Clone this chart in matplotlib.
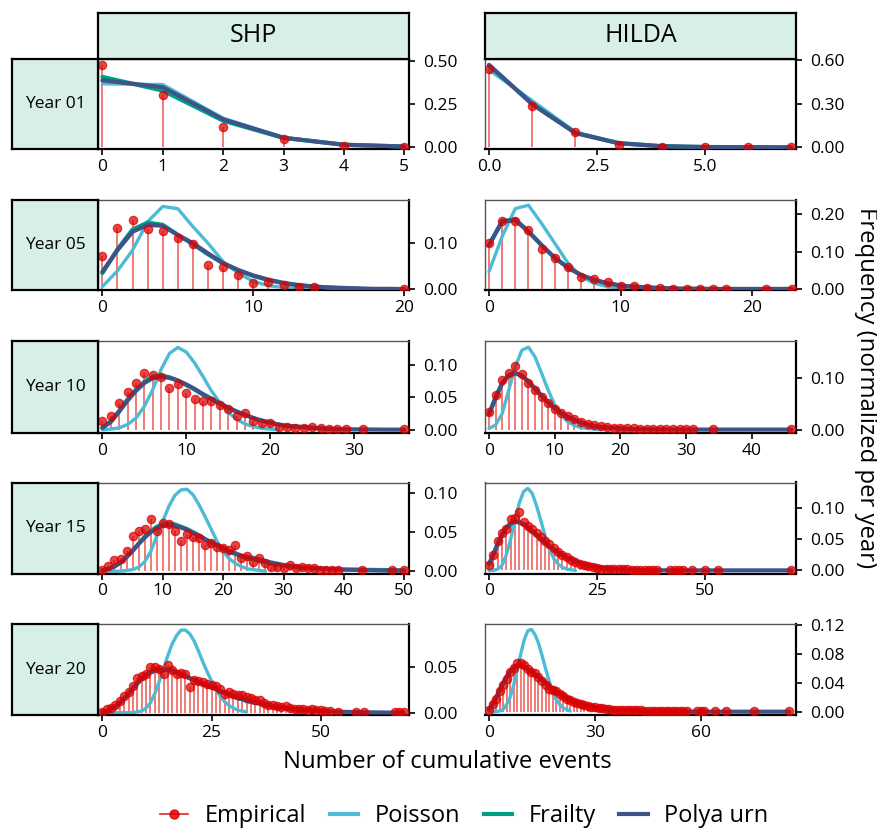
import numpy as np
import matplotlib
matplotlib.use("Agg")
import matplotlib.pyplot as plt
from matplotlib.lines import Line2D

plt.rcParams['font.family'] = ['Open Sans', 'DejaVu Sans']

datasets = ["SHP", "HILDA"]
years = ["Year 01", "Year 05", "Year 10", "Year 15", "Year 20"]

# ---- Year 01 ----
shp01_emp_x = [0, 1, 2, 3, 4, 5]
shp01_emp_y = [0.48, 0.305, 0.118, 0.047, 0.010, 0.003]
shp01_poisson = [0.37, 0.365, 0.17, 0.058, 0.015, 0.004]
shp01_frailty = [0.41, 0.33, 0.155, 0.055, 0.016, 0.005]
shp01_polya = [0.39, 0.35, 0.163, 0.056, 0.015, 0.005]

hilda01_emp_x = [0, 1, 2, 3, 4, 5, 6, 7]
hilda01_emp_y = [0.537, 0.286, 0.105, 0.018, 0.004, 0.002, 0.001, 0.001]
hilda01_poisson = [0.53, 0.32, 0.105, 0.028, 0.007, 0.002, 0.0, 0.0]
hilda01_frailty = [0.56, 0.30, 0.10, 0.03, 0.008, 0.003, 0.001, 0.0]
hilda01_polya = [0.565, 0.295, 0.098, 0.028, 0.008, 0.002, 0.001, 0.0]

# ---- Year 05 ----
shp05_emp_x = [0, 1, 2, 3, 4, 5, 6, 7, 8, 9, 10, 11, 12, 13, 14, 20]
shp05_emp_y = [0.072, 0.134, 0.151, 0.130, 0.126, 0.112, 0.098, 0.053, 0.048, 0.030,
               0.013, 0.016, 0.009, 0.006, 0.004, 0.001]
shp05_poisson = [0.006, 0.040, 0.085, 0.147, 0.180, 0.175, 0.136, 0.100, 0.060, 0.035,
                 0.017, 0.008, 0.004, 0.002, 0.001, 0.0]
shp05_frailty = [0.035, 0.087, 0.130, 0.145, 0.140, 0.118, 0.098, 0.076, 0.056, 0.041,
                 0.029, 0.020, 0.013, 0.009, 0.006, 0.004, 0.002, 0.001]
shp05_polya = [0.038, 0.085, 0.125, 0.140, 0.138, 0.118, 0.100, 0.078, 0.057, 0.042,
               0.030, 0.021, 0.014, 0.009, 0.006, 0.004, 0.003, 0.002, 0.001, 0.001,
               0.0005]

hilda05_emp_x = [0, 1, 2, 3, 4, 5, 6, 7, 8, 9, 10, 11, 12, 13, 14, 15, 16, 17, 18, 21, 23]
hilda05_emp_y = [0.122, 0.181, 0.181, 0.157, 0.108, 0.082, 0.058, 0.031, 0.026, 0.018,
                 0.007, 0.007, 0.003, 0.002, 0.001, 0.001, 0.001, 0.001, 0.001, 0.001,
                 0.0005]
hilda05_poisson = [0.046, 0.140, 0.215, 0.224, 0.175, 0.122, 0.069, 0.033, 0.015, 0.006,
                   0.002, 0.001, 0.0]
hilda05_frailty = [0.117, 0.182, 0.186, 0.154, 0.117, 0.083, 0.057, 0.037, 0.024, 0.015,
                   0.009, 0.006, 0.004, 0.002, 0.001]
hilda05_polya = [0.117, 0.180, 0.184, 0.153, 0.117, 0.083, 0.057, 0.037, 0.024, 0.015,
                 0.009, 0.006, 0.004, 0.002, 0.001, 0.001, 0.0005, 0.0, 0.0, 0.0,
                 0.0, 0.0, 0.0, 0.0]

# ---- Year 10 ----
shp10_emp_x = list(range(0, 30)) + [31, 36]
shp10_emp_y = [0.013, 0.021, 0.041, 0.059, 0.072, 0.088, 0.084, 0.082, 0.065, 0.071,
               0.057, 0.048, 0.044, 0.045, 0.038, 0.032, 0.022, 0.026, 0.013, 0.011,
               0.011, 0.004, 0.004, 0.003, 0.003, 0.004, 0.002, 0.001, 0.001, 0.001,
               0.001, 0.0005]
shp10_poisson = [0.0, 0.001, 0.003, 0.008, 0.018, 0.036, 0.062, 0.093, 0.118, 0.127,
                 0.120, 0.103, 0.082, 0.060, 0.042, 0.027, 0.016, 0.009, 0.005, 0.002,
                 0.001, 0.0]
shp10_frailty = [0.003, 0.013, 0.029, 0.047, 0.062, 0.074, 0.082, 0.084, 0.081, 0.076,
                 0.069, 0.062, 0.054, 0.047, 0.040, 0.034, 0.028, 0.023, 0.018, 0.014,
                 0.011, 0.008, 0.006, 0.005, 0.004, 0.003, 0.002, 0.0015, 0.001]
shp10_polya = [0.003, 0.012, 0.028, 0.045, 0.060, 0.072, 0.080, 0.082, 0.080, 0.076,
               0.070, 0.063, 0.055, 0.048, 0.041, 0.034, 0.028, 0.023, 0.018, 0.014,
               0.011, 0.008, 0.006, 0.005, 0.004, 0.003, 0.002, 0.0015, 0.001, 0.0008,
               0.0006, 0.0005, 0.0004, 0.0003, 0.0002, 0.0002, 0.0001]

hilda10_emp_x = list(range(0, 32)) + [34, 46]
hilda10_emp_y = [0.0345, 0.067, 0.097, 0.110, 0.125, 0.108, 0.090, 0.078, 0.064, 0.052,
                 0.041, 0.033, 0.026, 0.020, 0.015, 0.011, 0.008, 0.006, 0.005, 0.004,
                 0.003, 0.003, 0.003, 0.002, 0.002, 0.002, 0.002, 0.001, 0.001, 0.001,
                 0.001, 0.001, 0.001, 0.0005]
hilda10_poisson = [0.002, 0.009, 0.031, 0.077, 0.123, 0.155, 0.161, 0.142, 0.110, 0.077,
                   0.048, 0.028, 0.015, 0.008, 0.004, 0.002, 0.001, 0.0]
hilda10_frailty = [0.030, 0.063, 0.091, 0.107, 0.111, 0.105, 0.094, 0.080, 0.066, 0.053,
                   0.042, 0.032, 0.025, 0.019, 0.014, 0.010, 0.007, 0.005, 0.004, 0.003,
                   0.002, 0.001]
hilda10_polya = [0.030, 0.062, 0.090, 0.106, 0.110, 0.105, 0.094, 0.080, 0.066, 0.053,
                 0.042, 0.032, 0.025, 0.019, 0.014, 0.010, 0.007, 0.005, 0.004, 0.003,
                 0.002, 0.0015, 0.001, 0.0008, 0.0006, 0.0005, 0.0004, 0.0003, 0.0002, 0.0002,
                 0.0001, 0.0, 0.0, 0.0, 0.0, 0.0, 0.0, 0.0, 0.0, 0.0,
                 0.0, 0.0, 0.0, 0.0, 0.0, 0.0, 0.0]

# ---- Year 15 ----
shp15_emp_x = list(range(0, 40)) + [43, 48, 50]
shp15_emp_y = [0.001, 0.006, 0.014, 0.016, 0.026, 0.045, 0.051, 0.054, 0.067, 0.051,
               0.062, 0.060, 0.051, 0.039, 0.048, 0.044, 0.042, 0.033, 0.036, 0.031,
               0.030, 0.027, 0.033, 0.017, 0.020, 0.012, 0.017, 0.011, 0.005, 0.005,
               0.004, 0.008, 0.004, 0.005, 0.004, 0.004, 0.002, 0.002, 0.002, 0.001,
               0.001, 0.001, 0.001]
shp15_poisson = [0.0, 0.0, 0.0, 0.0, 0.001, 0.002, 0.005, 0.012, 0.025, 0.045,
                 0.064, 0.083, 0.097, 0.104, 0.105, 0.098, 0.085, 0.070, 0.054, 0.038,
                 0.025, 0.016, 0.010, 0.006, 0.003, 0.002, 0.001, 0.0]
shp15_frailty = [0.001, 0.003, 0.006, 0.011, 0.018, 0.026, 0.035, 0.044, 0.051, 0.057,
                 0.060, 0.061, 0.060, 0.057, 0.054, 0.050, 0.046, 0.041, 0.037, 0.033,
                 0.029, 0.025, 0.022, 0.019, 0.017, 0.015, 0.013, 0.011, 0.0095, 0.008,
                 0.007, 0.006, 0.005, 0.0045, 0.004, 0.0035, 0.003, 0.003, 0.0025, 0.0025,
                 0.002, 0.002, 0.002, 0.0018, 0.0017, 0.0016, 0.0015, 0.0014, 0.0013, 0.0012,
                 0.0012]
shp15_polya = [0.001, 0.003, 0.006, 0.011, 0.018, 0.026, 0.035, 0.043, 0.050, 0.055,
               0.058, 0.059, 0.058, 0.056, 0.053, 0.049, 0.045, 0.041, 0.037, 0.033,
               0.030, 0.026, 0.023, 0.020, 0.018, 0.017, 0.015, 0.013, 0.011, 0.0095,
               0.008, 0.007, 0.006, 0.005, 0.0045, 0.004, 0.0035, 0.003, 0.0025, 0.002,
               0.002, 0.0018, 0.0016, 0.0014, 0.0012, 0.001, 0.0009, 0.0008, 0.0007, 0.0006,
               0.0005]

hilda15_emp_x = list(range(0, 40)) + [42, 43, 44, 45, 47, 50, 53, 70]
hilda15_emp_y = [0.009, 0.025, 0.047, 0.061, 0.066, 0.082, 0.084, 0.094, 0.078, 0.072,
                 0.066, 0.060, 0.054, 0.048, 0.042, 0.036, 0.030, 0.025, 0.021, 0.017,
                 0.014, 0.011, 0.009, 0.007, 0.005, 0.004, 0.003, 0.003, 0.002, 0.002,
                 0.002, 0.002, 0.002, 0.001, 0.001, 0.001, 0.001, 0.001, 0.001, 0.001,
                 0.001, 0.001, 0.001, 0.001, 0.001, 0.001, 0.001, 0.001]
hilda15_poisson = [0.0, 0.0, 0.002, 0.008, 0.025, 0.050, 0.080, 0.108, 0.127, 0.132,
                   0.124, 0.104, 0.080, 0.055, 0.034, 0.019, 0.010, 0.005, 0.002, 0.001,
                   0.0]
hilda15_frailty = [0.010, 0.026, 0.043, 0.058, 0.069, 0.076, 0.079, 0.078, 0.074, 0.069,
                   0.063, 0.057, 0.051, 0.045, 0.039, 0.034, 0.029, 0.025, 0.021, 0.018,
                   0.015, 0.012, 0.010, 0.008, 0.007, 0.0055, 0.0045, 0.0035, 0.003, 0.0025,
                   0.002]
hilda15_polya = [0.010, 0.025, 0.042, 0.057, 0.068, 0.075, 0.078, 0.077, 0.074, 0.069,
                 0.063, 0.057, 0.051, 0.045, 0.039, 0.034, 0.029, 0.025, 0.021, 0.018,
                 0.015, 0.012, 0.010, 0.008, 0.007, 0.0055, 0.0045, 0.0035, 0.003, 0.0025,
                 0.002, 0.0016, 0.0013, 0.001, 0.0008, 0.0006, 0.0005, 0.0004, 0.0003, 0.0002,
                 0.0002, 0.0001, 0.0, 0.0, 0.0, 0.0, 0.0, 0.0, 0.0, 0.0,
                 0.0, 0.0, 0.0, 0.0, 0.0, 0.0, 0.0, 0.0, 0.0, 0.0,
                 0.0, 0.0, 0.0, 0.0, 0.0, 0.0, 0.0, 0.0, 0.0, 0.0,
                 0.0]

# ---- Year 20 ----
shp20_emp_x = list(range(0, 53)) + [54, 58, 60, 67, 68, 69]
shp20_emp_y = [0.001, 0.004, 0.005, 0.008, 0.013, 0.018, 0.023, 0.029, 0.038, 0.040,
               0.043, 0.050, 0.050, 0.048, 0.043, 0.053, 0.047, 0.043, 0.044, 0.043,
               0.028, 0.036, 0.035, 0.034, 0.032, 0.030, 0.029, 0.026, 0.021, 0.023,
               0.021, 0.020, 0.020, 0.017, 0.016, 0.014, 0.014, 0.011, 0.008, 0.009,
               0.007, 0.006, 0.007, 0.005, 0.004, 0.004, 0.004, 0.003, 0.004, 0.003,
               0.003, 0.002, 0.002,
               0.001, 0.001, 0.001, 0.001, 0.001, 0.001]
shp20_poisson = [0.0, 0.0, 0.0, 0.0, 0.0, 0.0, 0.0, 0.0, 0.001, 0.002,
                 0.005, 0.011, 0.021, 0.034, 0.049, 0.063, 0.076, 0.085, 0.091, 0.091,
                 0.087, 0.079, 0.068, 0.056, 0.045, 0.035, 0.026, 0.018, 0.012, 0.008,
                 0.005, 0.003, 0.002, 0.001]
shp20_frailty = [0.001, 0.002, 0.004, 0.007, 0.011, 0.016, 0.021, 0.027, 0.033, 0.038,
                 0.042, 0.045, 0.047, 0.048, 0.048, 0.048, 0.047, 0.045, 0.043, 0.041,
                 0.038, 0.036, 0.034, 0.032, 0.030, 0.028, 0.026, 0.024, 0.022, 0.020,
                 0.018, 0.016, 0.015, 0.013, 0.012, 0.011, 0.010, 0.009, 0.008, 0.007,
                 0.0065, 0.006, 0.0055, 0.005, 0.0045, 0.004, 0.0035, 0.003, 0.0028, 0.0025,
                 0.0022]
shp20_polya = [0.001, 0.002, 0.004, 0.007, 0.011, 0.016, 0.021, 0.027, 0.032, 0.037,
               0.041, 0.044, 0.046, 0.047, 0.047, 0.047, 0.046, 0.044, 0.042, 0.040,
               0.038, 0.036, 0.034, 0.032, 0.030, 0.028, 0.026, 0.024, 0.022, 0.020,
               0.018, 0.016, 0.015, 0.013, 0.012, 0.011, 0.010, 0.009, 0.008, 0.0072,
               0.0065, 0.0058, 0.0052, 0.0046, 0.0041, 0.0036, 0.0032, 0.0028, 0.0025, 0.0022,
               0.002, 0.0018, 0.0016, 0.0014, 0.0012, 0.001, 0.0009, 0.0008, 0.0007, 0.0006,
               0.0005, 0.0004, 0.0004, 0.0003, 0.0003, 0.0002, 0.0002, 0.0002, 0.0001, 0.0001]

hilda20_emp_x = list(range(0, 57)) + [59, 60, 61, 64, 67, 75, 85]
hilda20_emp_y = [0.0025, 0.010, 0.017, 0.028, 0.037, 0.045, 0.055, 0.060, 0.068, 0.067,
                 0.065, 0.059, 0.055, 0.053, 0.048, 0.042, 0.037, 0.032, 0.030, 0.028,
                 0.025, 0.022, 0.018, 0.016, 0.014, 0.012, 0.010, 0.009, 0.008, 0.007,
                 0.006, 0.005, 0.005, 0.004, 0.004, 0.003, 0.003, 0.003, 0.002, 0.002,
                 0.002, 0.002, 0.002, 0.002, 0.001, 0.001, 0.001, 0.001, 0.001, 0.001,
                 0.001, 0.001, 0.001, 0.001, 0.001, 0.001, 0.001,
                 0.001, 0.001, 0.001, 0.001, 0.001, 0.001, 0.001]
hilda20_poisson = [0.0, 0.0, 0.0, 0.001, 0.003, 0.010, 0.020, 0.037, 0.058, 0.080,
                   0.100, 0.112, 0.114, 0.107, 0.095, 0.078, 0.060, 0.043, 0.028, 0.017,
                   0.010, 0.005, 0.003, 0.001]
hilda20_frailty = [0.003, 0.010, 0.019, 0.030, 0.040, 0.049, 0.056, 0.061, 0.064, 0.064,
                   0.062, 0.059, 0.056, 0.052, 0.048, 0.044, 0.040, 0.036, 0.032, 0.028,
                   0.025, 0.022, 0.019, 0.017, 0.015, 0.013, 0.011, 0.0095, 0.008, 0.007,
                   0.006, 0.005, 0.0045, 0.004, 0.0035, 0.003]
hilda20_polya = [0.003, 0.010, 0.019, 0.029, 0.039, 0.048, 0.055, 0.060, 0.063, 0.063,
                 0.062, 0.059, 0.056, 0.052, 0.048, 0.044, 0.040, 0.036, 0.032, 0.028,
                 0.025, 0.022, 0.019, 0.017, 0.015, 0.013, 0.011, 0.0095, 0.008, 0.007,
                 0.006, 0.005, 0.0045, 0.004, 0.0035, 0.003, 0.0026, 0.0022, 0.0019, 0.0016,
                 0.0014, 0.0012, 0.001, 0.0009, 0.0008, 0.0007, 0.0006, 0.0005, 0.0004, 0.0004,
                 0.0003, 0.0003, 0.0002, 0.0002, 0.0002, 0.0001, 0.0001, 0.0001, 0.0001, 0.0,
                 0.0, 0.0, 0.0, 0.0, 0.0, 0.0, 0.0, 0.0, 0.0, 0.0,
                 0.0, 0.0, 0.0, 0.0, 0.0, 0.0, 0.0, 0.0, 0.0, 0.0,
                 0.0, 0.0, 0.0, 0.0, 0.0, 0.0]

# axis settings per panel (row, col)
xticks = [[[0, 1, 2, 3, 4, 5], [0, 2.5, 5.0]],
          [[0, 10, 20], [0, 10, 20]],
          [[0, 10, 20, 30], [0, 10, 20, 30, 40]],
          [[0, 10, 20, 30, 40, 50], [0, 25, 50]],
          [[0, 25, 50], [0, 30, 60]]]
xlims = [[(-0.073, 5.078), (-0.093, 7.107)],
         [(-0.29, 20.31), (-0.30, 23.31)],
         [(-0.52, 36.54), (-0.61, 46.7)],
         [(-0.73, 50.78), (-0.93, 71.06)],
         [(-1.0, 70.2), (-1.13, 86.9)]]
yticks = [[[0, 0.25, 0.5], [0, 0.3, 0.6]],
          [[0, 0.1], [0, 0.1, 0.2]],
          [[0, 0.05, 0.10], [0, 0.10]],
          [[0, 0.05, 0.10], [0, 0.05, 0.10]],
          [[0, 0.05], [0, 0.04, 0.08, 0.12]]]
ylims = [[(-0.0094, 0.514), (-0.011, 0.605)],
         [(-0.0015, 0.194), (-0.003, 0.238)],
         [(-0.005, 0.137), (-0.0067, 0.173)],
         [(-0.003, 0.1136), (-0.005, 0.1415)],
         [(-0.0025, 0.0977), (-0.0046, 0.1214)]]

panels = [
    [(shp01_emp_x, shp01_emp_y, shp01_poisson, shp01_frailty, shp01_polya),
     (hilda01_emp_x, hilda01_emp_y, hilda01_poisson, hilda01_frailty, hilda01_polya)],
    [(shp05_emp_x, shp05_emp_y, shp05_poisson, shp05_frailty, shp05_polya),
     (hilda05_emp_x, hilda05_emp_y, hilda05_poisson, hilda05_frailty, hilda05_polya)],
    [(shp10_emp_x, shp10_emp_y, shp10_poisson, shp10_frailty, shp10_polya),
     (hilda10_emp_x, hilda10_emp_y, hilda10_poisson, hilda10_frailty, hilda10_polya)],
    [(shp15_emp_x, shp15_emp_y, shp15_poisson, shp15_frailty, shp15_polya),
     (hilda15_emp_x, hilda15_emp_y, hilda15_poisson, hilda15_frailty, hilda15_polya)],
    [(shp20_emp_x, shp20_emp_y, shp20_poisson, shp20_frailty, shp20_polya),
     (hilda20_emp_x, hilda20_emp_y, hilda20_poisson, hilda20_frailty, hilda20_polya)],
]

C_EMP = "#DC0000"
C_STEM = "#E8453C"
C_POIS = "#4DBBD5"
C_FRAIL = "#00A087"
C_POLYA = "#3C5488"
STRIP = "#D8EEE8"

W, H = 877, 830
fig = plt.figure(figsize=(W / 100, H / 100), dpi=100)

def px(x0, y0, x1, y1):
    return [x0 / W, 1 - y1 / H, (x1 - x0) / W, (y1 - y0) / H]

col_x = [(98, 409), (485, 796)]
row_y = [(59, 149), (200, 290), (341, 433), (482.5, 573.5), (624, 715)]

for r in range(5):
    for c in range(2):
        ex, ey, pois, frail, polya = panels[r][c]
        ax = fig.add_axes(px(col_x[c][0], row_y[r][0], col_x[c][1], row_y[r][1]))
        ax.vlines(ex, 0, ey, color=C_STEM, lw=1.1, alpha=0.9, zorder=1)
        ax.plot(np.arange(len(pois)), pois, color=C_POIS, lw=2.4, zorder=2,
                solid_capstyle='round', solid_joinstyle='round')
        ax.plot(np.arange(len(frail)), frail, color=C_FRAIL, lw=3.0, zorder=3,
                solid_capstyle='round', solid_joinstyle='round')
        ax.plot(np.arange(len(polya)), polya, color=C_POLYA, lw=3.0, zorder=4,
                solid_capstyle='round', solid_joinstyle='round')
        ax.plot(ex, ey, 'o', color=C_EMP, ms=6, alpha=0.72, mec=C_EMP, mew=0.9, zorder=5)
        ax.set_xlim(*xlims[r][c])
        ax.set_ylim(*ylims[r][c])
        ax.set_xticks(xticks[r][c])
        ax.set_xticklabels([("%.1f" % v) if c == 1 and r == 0 else "%d" % v
                            for v in xticks[r][c]])
        ax.set_yticks(yticks[r][c])
        ax.set_yticklabels(["%.2f" % v for v in yticks[r][c]])
        ax.yaxis.tick_right()
        ax.tick_params(axis='both', direction='out', length=4, width=1.2,
                       labelsize=12.5, pad=3, colors='black')
        ax.tick_params(axis='y', pad=6)
        for s in ['top', 'left']:
            ax.spines[s].set_color('#555555')
            ax.spines[s].set_linewidth(1.0)
        for s in ['right', 'bottom']:
            ax.spines[s].set_color('black')
            ax.spines[s].set_linewidth(1.6)
        ax.set_facecolor('white')

# top strips
for c in range(2):
    sax = fig.add_axes(px(col_x[c][0], 13, col_x[c][1], 59))
    sax.set_facecolor(STRIP)
    sax.set_xticks([])
    sax.set_yticks([])
    for s in sax.spines.values():
        s.set_linewidth(1.6)
        s.set_color('black')
    sax.text(0.5, 0.5, datasets[c], ha='center', va='center', fontsize=18,
             transform=sax.transAxes)

# left strips
for r in range(5):
    sax = fig.add_axes(px(12, row_y[r][0], 98, row_y[r][1]))
    sax.set_facecolor(STRIP)
    sax.set_xticks([])
    sax.set_yticks([])
    for s in sax.spines.values():
        s.set_linewidth(1.6)
        s.set_color('black')
    sax.text(0.5, 0.5, years[r], ha='center', va='center', fontsize=12.5,
             transform=sax.transAxes)

fig.text(447 / W, 1 - 762 / H, "Number of cumulative events", ha='center', va='center',
         fontsize=17.2)
fig.text(866 / W, 1 - 388 / H, "Frequency (normalized per year)", ha='center', va='center',
         rotation=270, fontsize=17.2)

handles = [
    Line2D([0], [0], color=C_EMP, lw=1.2, marker='o', ms=6.5, alpha=0.85),
    Line2D([0], [0], color=C_POIS, lw=3),
    Line2D([0], [0], color=C_FRAIL, lw=3),
    Line2D([0], [0], color=C_POLYA, lw=3),
]
fig.legend(handles, ["Empirical", "Poisson", "Frailty", "Polya urn"], loc='center',
           bbox_to_anchor=(464 / W, 1 - 816 / H), ncol=4, frameon=False, fontsize=17,
           handlelength=1.2, handletextpad=0.7, columnspacing=1.0)

fig.savefig("out.png", dpi=100)
